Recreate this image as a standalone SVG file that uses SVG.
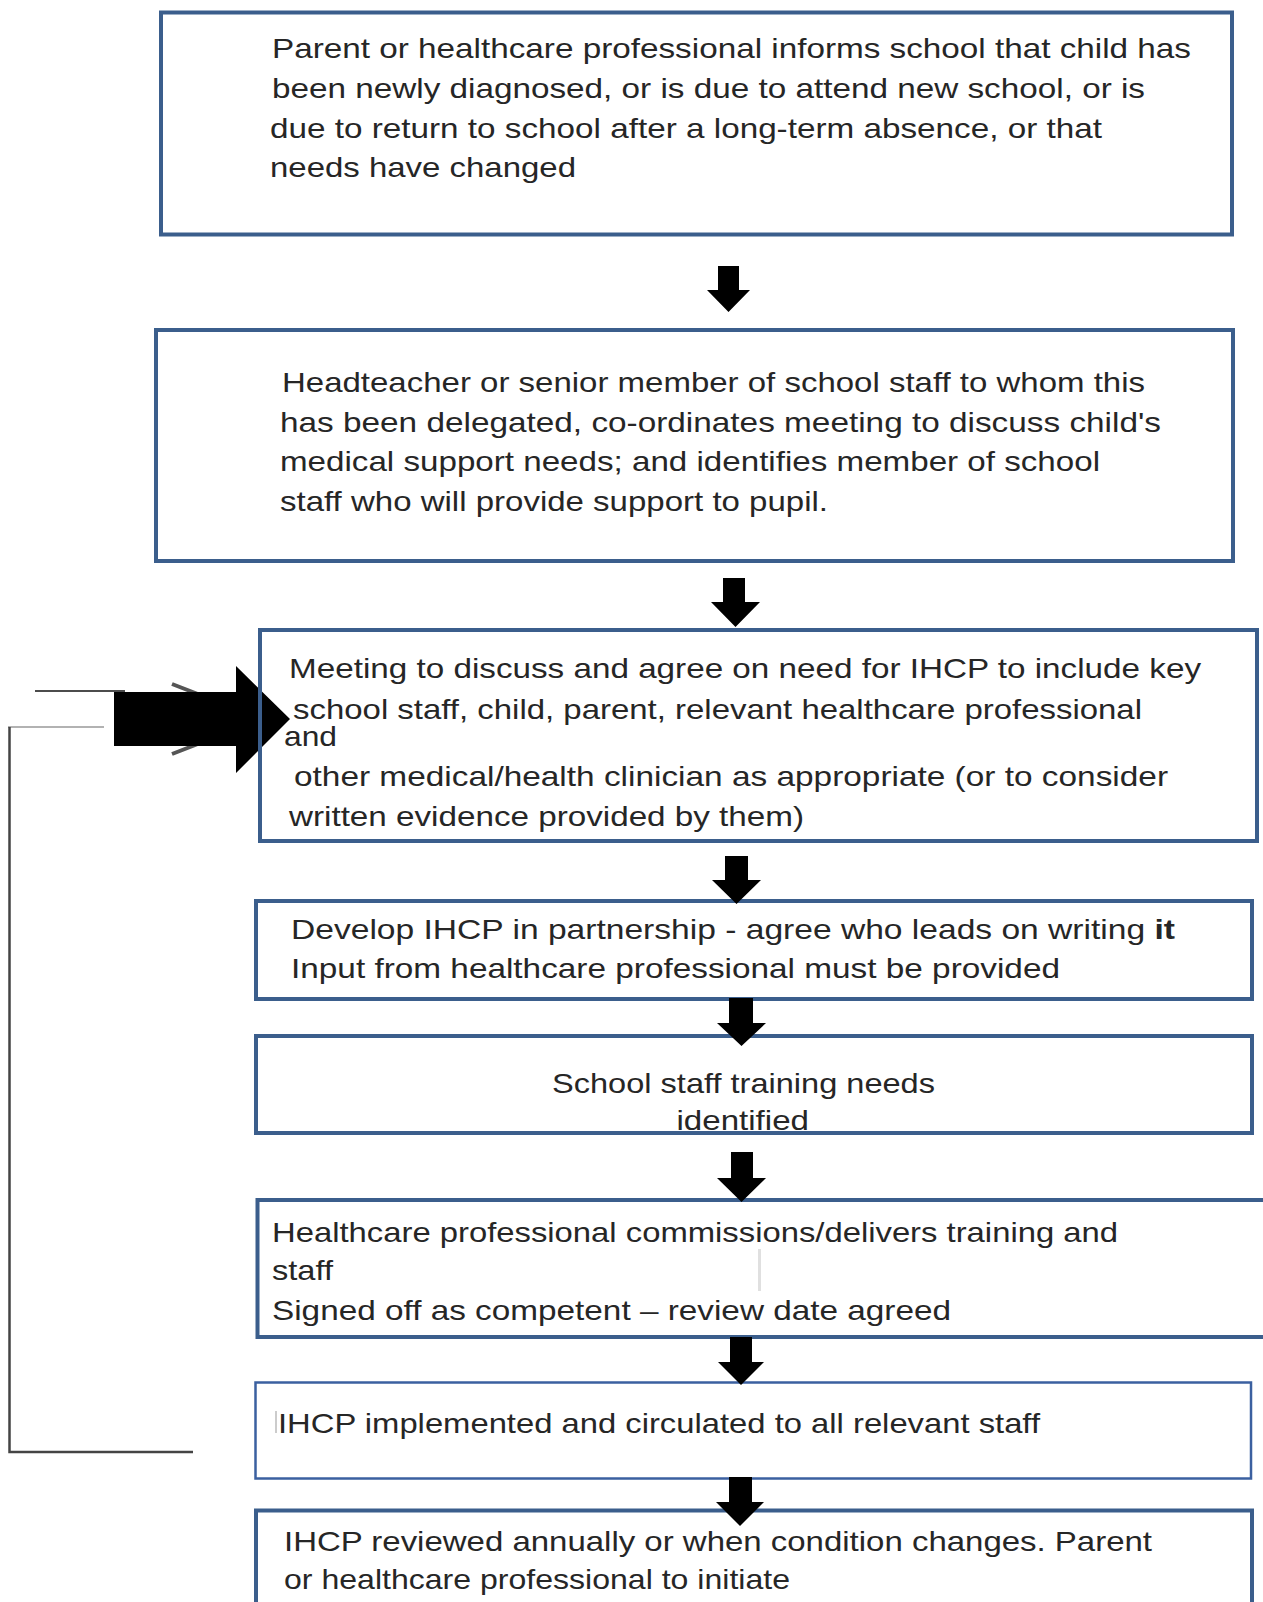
<svg xmlns="http://www.w3.org/2000/svg" width="1263" height="1602" viewBox="0 0 1263 1602">
<style>
.box{fill:none;stroke:#3b5e8c;stroke-width:4}
.box7{fill:none;stroke:#3b60a0;stroke-width:2.5}
.t{font-family:"Liberation Sans",Arial,sans-serif;font-size:28px;fill:#262626}
.arr{fill:#000}
</style>
<rect x="0" y="0" width="1263" height="1602" fill="#fff"/>
<g id="feedback-loop">
<line x1="35" y1="691" x2="125" y2="691" stroke="#111" stroke-width="1.5"/>
<line x1="8" y1="727" x2="104" y2="727" stroke="#999" stroke-width="1.5"/>
<polyline points="9.5,727 9.5,1452 193,1452" fill="none" stroke="#444" stroke-width="2.5"/>
<polyline points="172,684 262,719 172,754" fill="none" stroke="#555" stroke-width="4"/>
<polygon class="arr" points="114,692 236,692 236,666 290,719 236,773 236,746 114,746"/>
</g>
<g id="node1">
<rect class="box" x="161" y="12.5" width="1071" height="222"/>
<text class="t" x="272" y="58" textLength="919" lengthAdjust="spacingAndGlyphs">Parent or healthcare professional informs school that child has</text>
<text class="t" x="272" y="98" textLength="873" lengthAdjust="spacingAndGlyphs">been newly diagnosed, or is due to attend new school, or is</text>
<text class="t" x="270" y="138" textLength="832" lengthAdjust="spacingAndGlyphs">due to return to school after a long-term absence, or that</text>
<text class="t" x="270" y="177" textLength="306" lengthAdjust="spacingAndGlyphs">needs have changed</text>
</g>
<g id="node2">
<rect class="box" x="156" y="330" width="1077" height="231"/>
<text class="t" x="282" y="392" textLength="863" lengthAdjust="spacingAndGlyphs">Headteacher or senior member of school staff to whom this</text>
<text class="t" x="280" y="432" textLength="881" lengthAdjust="spacingAndGlyphs">has been delegated, co-ordinates meeting to discuss child's</text>
<text class="t" x="280" y="471" textLength="820" lengthAdjust="spacingAndGlyphs">medical support needs; and identifies member of school</text>
<text class="t" x="280" y="511" textLength="548" lengthAdjust="spacingAndGlyphs">staff who will provide support to pupil.</text>
</g>
<g id="node3">
<rect class="box" x="260" y="630" width="997" height="211"/>
<text class="t" x="289" y="678" textLength="912" lengthAdjust="spacingAndGlyphs">Meeting to discuss and agree on need for IHCP to include key</text>
<text class="t" x="293" y="719" textLength="849" lengthAdjust="spacingAndGlyphs">school staff, child, parent, relevant healthcare professional</text>
<text class="t" x="284" y="746" textLength="53" lengthAdjust="spacingAndGlyphs">and</text>
<text class="t" x="294" y="786" textLength="874" lengthAdjust="spacingAndGlyphs">other medical/health clinician as appropriate (or to consider</text>
<text class="t" x="289" y="826" textLength="515" lengthAdjust="spacingAndGlyphs">written evidence provided by them)</text>
</g>
<g id="node4">
<rect class="box" x="256" y="901" width="996" height="98"/>
<text class="t" x="291" y="939" textLength="884" lengthAdjust="spacingAndGlyphs">Develop IHCP in partnership - agree who leads on writing <tspan font-weight="bold">it</tspan></text>
<text class="t" x="291" y="978" textLength="769" lengthAdjust="spacingAndGlyphs">Input from healthcare professional must be provided</text>
</g>
<g id="node5">
<rect class="box" x="256" y="1036" width="996" height="97"/>
<text class="t" x="552" y="1093" textLength="383" lengthAdjust="spacingAndGlyphs">School staff training needs</text>
<text class="t" x="676.5" y="1130" textLength="132.5" lengthAdjust="spacingAndGlyphs">identified</text>
</g>
<g id="node6">
<rect class="box" x="257.5" y="1200" width="1012" height="137"/>
<rect x="758" y="1249" width="3" height="42" fill="#e0e0e0"/>
<text class="t" x="272" y="1242" textLength="846" lengthAdjust="spacingAndGlyphs">Healthcare professional commissions/delivers training and</text>
<text class="t" x="272" y="1280" textLength="61" lengthAdjust="spacingAndGlyphs">staff</text>
<text class="t" x="272" y="1320" textLength="679" lengthAdjust="spacingAndGlyphs">Signed off as competent – review date agreed</text>
</g>
<g id="node7">
<rect class="box7" x="255.5" y="1382.5" width="995.5" height="96"/>
<rect x="275" y="1411" width="2" height="22" fill="#ccc"/>
<text class="t" x="278" y="1433" textLength="762" lengthAdjust="spacingAndGlyphs">IHCP implemented and circulated to all relevant staff</text>
</g>
<g id="node8">
<rect class="box" x="256" y="1510.5" width="996" height="110"/>
<text class="t" x="284" y="1551" textLength="868" lengthAdjust="spacingAndGlyphs">IHCP reviewed annually or when condition changes. Parent</text>
<text class="t" x="284" y="1589" textLength="506" lengthAdjust="spacingAndGlyphs">or healthcare professional to initiate</text>
</g>
<g id="connectors">
<polygon class="arr" points="718,266 739,266 739,290 750,290 728.5,312 707,290 718,290"/>
<polygon class="arr" points="723,578 745,578 745,602 760,602 735.5,627 711,602 723,602"/>
<polygon class="arr" points="725,856 748,856 748,880 761,880 736.5,904 712,880 725,880"/>
<polygon class="arr" points="729,998 753,998 753,1023 766,1023 741.5,1046 717,1023 729,1023"/>
<polygon class="arr" points="731,1152 753,1152 753,1178 766,1178 741.5,1202 717,1178 731,1178"/>
<polygon class="arr" points="730,1337 752,1337 752,1362 764,1362 741,1385 718,1362 730,1362"/>
<polygon class="arr" points="729,1477 752,1477 752,1502 764,1502 740,1526 716,1502 729,1502"/>
</g>
</svg>
